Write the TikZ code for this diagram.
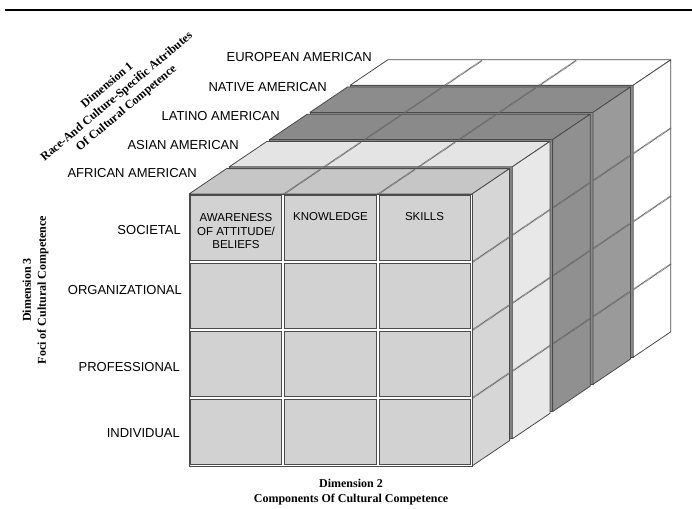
\documentclass[tikz,border=0pt]{standalone}
\usepackage{fontspec}
\setmainfont{Liberation Serif}
\setsansfont{Liberation Sans}
\definecolor{edgec}{HTML}{4A4A4A}
\definecolor{cellc}{HTML}{D2D2D2}
\definecolor{hidfront}{HTML}{8A8A8A}
\definecolor{afrtop}{HTML}{C6C6C6}
\definecolor{afrright}{HTML}{D6D6D6}
\definecolor{asitop}{HTML}{E4E4E4}
\definecolor{asiright}{HTML}{E8E8E8}
\definecolor{lattop}{HTML}{8A8A8A}
\definecolor{latright}{HTML}{909090}
\definecolor{nattop}{HTML}{8C8C8C}
\definecolor{natright}{HTML}{9A9A9A}
\definecolor{eurtop}{HTML}{FFFFFF}
\definecolor{eurright}{HTML}{FFFFFF}
\tikzset{
  face/.style={draw=edgec, line width=0.8pt, line join=round},
  hatch/.style={draw=black!60, line width=1.6pt, dash pattern=on 0.7pt off 0.6pt},
  cellbox/.style={fill=cellc, draw=black!70, line width=1pt},
  lab/.style={font=\sffamily\fontsize{13}{15}\selectfont, inner sep=0pt},
  celltxt/.style={font=\sffamily\fontsize{11.5}{13.5}\selectfont, align=center, inner sep=0pt},
  dimlab/.style={font=\bfseries\fontsize{12}{15}\selectfont, align=center, inner sep=0pt}
}
\begin{document}
\begin{tikzpicture}[x=1pt,y=-1pt]
\useasboundingbox (0,0) rectangle (692,508);
% top rule
\draw[line width=2.3pt] (5,9.7) -- (692,9.7);
% slabs, back to front
\foreach \k/\tc/\rc in {4/eurtop/eurright,3/nattop/natright,2/lattop/latright,1/asitop/asiright,0/afrtop/afrright}{
  \begin{scope}[shift={({\k*40.3},{-\k*27.2})}]
    \filldraw[face, fill=hidfront] (189,194) rectangle (472,466);
    \filldraw[face, fill=\tc] (189,194) -- (472,194) -- ++(37.6,-25.4) -- ++(-283,0) -- cycle;
    \filldraw[face, fill=\rc] (472,194) -- (472,466) -- ++(37.6,-25.4) -- ++(0,-272) -- cycle;
    \foreach \xc in {283.33,377.67}{\draw[hatch] (\xc,194.5) -- ++(37.2,-25.1);}
    \foreach \yr in {262,330,398}{\draw[hatch] (472.5,\yr) -- ++(37.1,-25.1);}
  \end{scope}
}
% front face of first slab
\filldraw[face, fill=white] (189,194) rectangle (472,466);
\foreach \c in {0,1,2}{
  \foreach \r in {0,1,2,3}{
    \draw[cellbox] ({189+\c*94.33+1.6},{194+\r*68+1.6}) rectangle ({189+(\c+1)*94.33-1.6},{194+(\r+1)*68-1.6});
  }
}
% cell texts
\node[celltxt] (aware) at (236,231.5) {AWARENESS\\OF ATTITUDE/\\BELIEFS};
\node[celltxt] (know) at (330.5,217) {KNOWLEDGE};
\node[celltxt] (skill) at (424.5,217) {SKILLS};
% row labels
\node[lab, anchor=east] (soc) at (181,230) {SOCIETAL};
\node[lab, anchor=east] (org) at (182,290) {ORGANIZATIONAL};
\node[lab, anchor=east] (pro) at (180,367) {PROFESSIONAL};
\node[lab, anchor=east] (ind) at (180,433) {INDIVIDUAL};
% layer labels
\node[lab, anchor=east] (afr) at (197,173) {AFRICAN AMERICAN};
\node[lab, anchor=east] (asi) at (239,145) {ASIAN AMERICAN};
\node[lab, anchor=east] (lat) at (280,116.5) {LATINO AMERICAN};
\node[lab, anchor=east] (nat) at (327,87.5) {NATIVE AMERICAN};
\node[lab, anchor=east] (eur) at (372,57.5) {EUROPEAN AMERICAN};
% dimension labels
\node[dimlab, rotate=40] (dim1) at (117,97) {Dimension 1\\Race-And Culture-Specific Attributes\\Of Cultural Competence};
\node[dimlab] (dim2) at (351,492) {Dimension 2\\Components Of Cultural Competence};
\node[dimlab, rotate=90] (dim3) at (35.5,290) {Dimension 3\\Foci of Cultural Competence};
\end{tikzpicture}
\end{document}
